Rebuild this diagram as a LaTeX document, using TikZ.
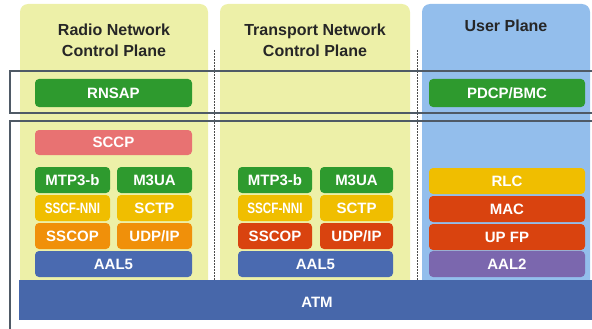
\documentclass[tikz,border=0pt]{standalone}
\usepackage{fontspec}
\setmainfont{Liberation Sans}
\newfontfamily\narrowfont{Liberation Sans}[FakeStretch=0.78]
\definecolor{panelY}{HTML}{EDF0A8}
\definecolor{panelB}{HTML}{93BEEC}
\definecolor{cGreen}{HTML}{2E9A2E}
\definecolor{cSalmon}{HTML}{E87272}
\definecolor{cGold}{HTML}{F0BE00}
\definecolor{cOrange}{HTML}{F0900A}
\definecolor{cRed}{HTML}{D9430F}
\definecolor{cBlue}{HTML}{4A6AB0}
\definecolor{cPurple}{HTML}{7B67AE}
\definecolor{cAtm}{HTML}{4767AA}
\definecolor{cFrame}{HTML}{4F5A66}
\tikzset{
  blk/.style={rounded corners=4pt, text=white, inner sep=0pt, minimum height=26pt,
    font=\fontsize{15}{17}\selectfont\bfseries},
  narrow/.style={font=\fontsize{15}{17}\selectfont\narrowfont\bfseries},
  hdr/.style={align=center, font=\fontsize{16}{21}\selectfont\bfseries, text=black!85},
  panel/.style={rounded corners=8pt},
  frame/.style={draw=cFrame, line width=1.8pt},
  sep/.style={draw=black!70, dashed, dash pattern=on 2pt off 1pt, line width=0.9pt}
}
\begin{document}
\begin{tikzpicture}[x=1pt,y=-1pt]
\useasboundingbox (0,0) rectangle (592,329);
\begin{scope}
\clip (0,0) rectangle (592,329);
% panels
\fill[panelY, panel] (20,4) rectangle (208,300);
\fill[panelY, panel] (220,4) rectangle (410,300);
\fill[panelB, panel] (422,4) rectangle (590,300);
% separators
\draw[white, line width=2pt] (216,50) -- (216,282);
\draw[sep] (214,50) -- (214,282);
\draw[white, line width=2pt] (419,50) -- (419,282);
\draw[sep] (417,50) -- (417,282);
% headers
\node[hdr] (h1) at (114,40) {Radio Network\\Control Plane};
\node[hdr] (h2) at (315,40) {Transport Network\\Control Plane};
\node[hdr] (h3) at (506,26) {User Plane};
% panel 1
\node[blk, fill=cGreen, minimum width=157pt, minimum height=28pt] (rnsap) at (113.5,93) {RNSAP};
\node[blk, fill=cSalmon, minimum width=157pt, minimum height=25pt] (sccp) at (113.5,142.5) {SCCP};
\node[blk, fill=cGreen, minimum width=75pt] (mtpA) at (72.5,180) {MTP3-b};
\node[blk, fill=cGreen, minimum width=75pt] (m3uaA) at (154.5,180) {M3UA};
\node[blk, narrow, fill=cGold, minimum width=75pt] (sscfA) at (72.5,208) {SSCF-NNI};
\node[blk, fill=cGold, minimum width=75pt] (sctpA) at (154.5,208) {SCTP};
\node[blk, fill=cOrange, minimum width=75pt] (sscopA) at (72.5,236) {SSCOP};
\node[blk, fill=cOrange, minimum width=75pt] (udpA) at (154.5,236) {UDP/IP};
\node[blk, fill=cBlue, minimum width=157pt] (aalA) at (113.5,264) {AAL5};
% panel 2
\node[blk, fill=cGreen, minimum width=74pt] (mtpB) at (275,180) {MTP3-b};
\node[blk, fill=cGreen, minimum width=73pt] (m3uaB) at (356.5,180) {M3UA};
\node[blk, narrow, fill=cGold, minimum width=74pt] (sscfB) at (275,208) {SSCF-NNI};
\node[blk, fill=cGold, minimum width=73pt] (sctpB) at (356.5,208) {SCTP};
\node[blk, fill=cRed, minimum width=74pt] (sscopB) at (275,236) {SSCOP};
\node[blk, fill=cRed, minimum width=73pt] (udpB) at (356.5,236) {UDP/IP};
\node[blk, fill=cBlue, minimum width=155pt] (aalB) at (315.5,264) {AAL5};
% panel 3
\node[blk, fill=cGreen, minimum width=156pt, minimum height=28pt] (pdcp) at (507,93) {PDCP/BMC};
\node[blk, fill=cGold, minimum width=156pt] (rlc) at (507,181) {RLC};
\node[blk, fill=cRed, minimum width=156pt] (mac) at (507,209) {MAC};
\node[blk, fill=cRed, minimum width=156pt] (upfp) at (507,237) {UP FP};
\node[blk, fill=cPurple, minimum width=156pt] (aal2) at (507,264) {AAL2};
% frames
\draw[frame] (10,71) rectangle (600,113);
\draw[frame] (10,121) rectangle (600,340);
% ATM
\fill[cAtm] (19,280) rectangle (600,320);
\node[blk, minimum height=0pt] (atm) at (317,302) {ATM};
\end{scope}
\end{tikzpicture}
\end{document}
